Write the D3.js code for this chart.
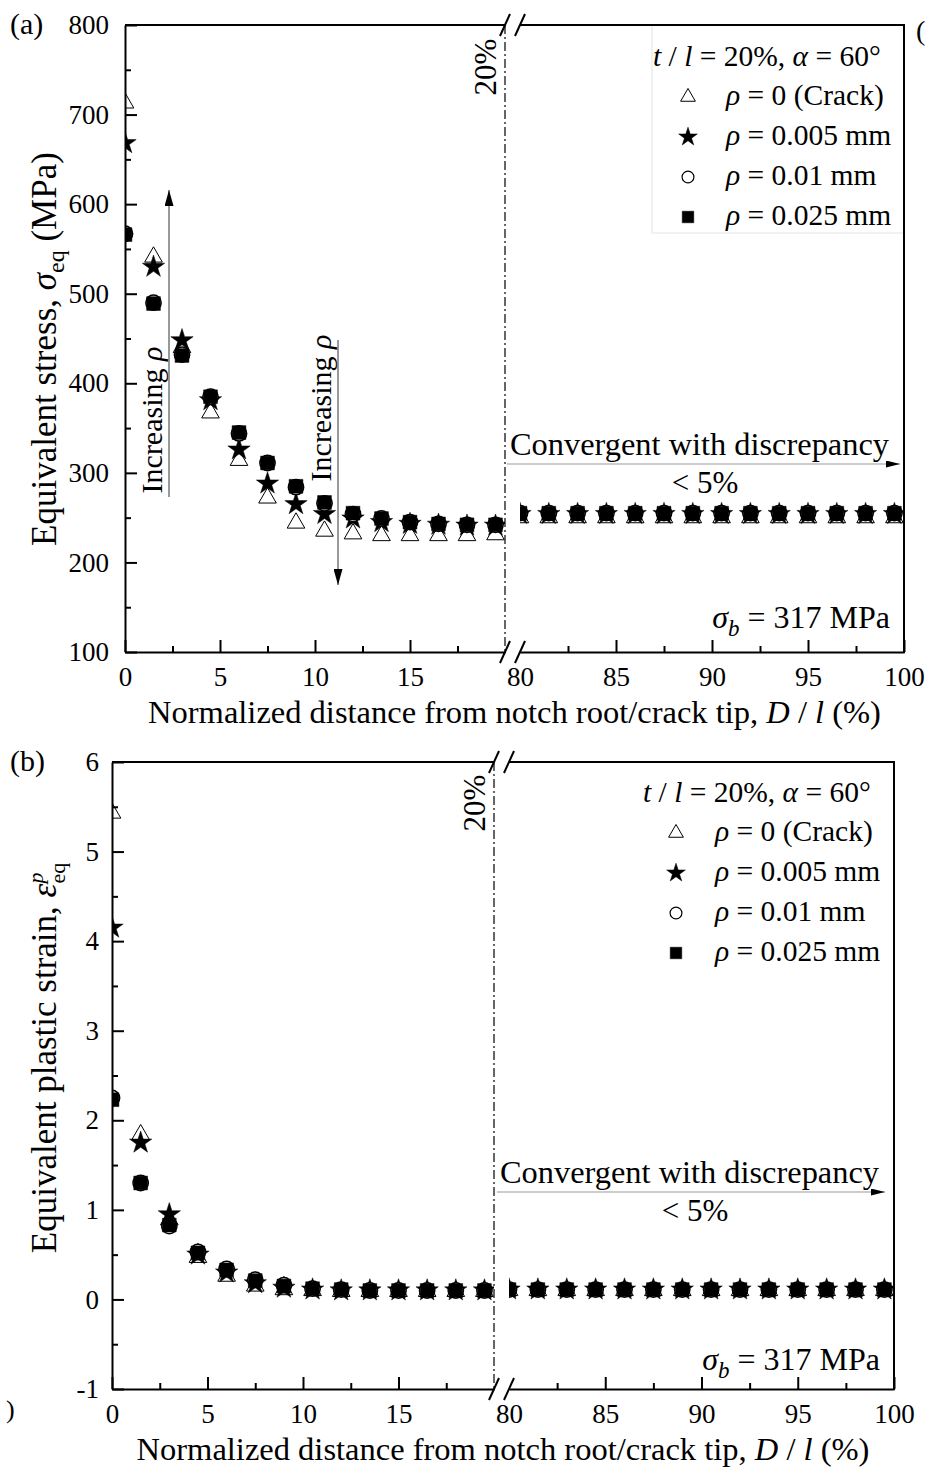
<!DOCTYPE html>
<html>
<head>
<meta charset="utf-8">
<script src="https://cdn.jsdelivr.net/npm/d3@7"></script>
<style>
  body { margin: 0; background: #fff; }
  svg { display: block; }
</style>
</head>
<body>
<script>
// Equivalent stress / plastic strain vs. normalized distance (broken x axis)
var FONT = "'Liberation Serif', 'Times New Roman', serif";

// x positions (left segment 0-20 %, right segment 80-100 %)
var xLeft  = [0, 1.5, 3, 4.5, 6, 7.5, 9, 10.5, 12, 13.5, 15, 16.5, 18, 19.5];
var xRight = [80, 81.5, 83, 84.5, 86, 87.5, 89, 90.5, 92, 93.5, 95, 96.5, 98, 99.5];

var seriesLabels = ["0 (Crack)", "0.005 mm", "0.01 mm", "0.025 mm"];

// (a) equivalent stress, MPa  (left 14 values, then right 14 values)
var stressCrack = [713, 541, 440, 367, 314, 272, 244, 235, 232, 230, 230, 230, 230, 231,
                   250, 250, 250, 250, 250, 250, 250, 250, 250, 250, 250, 250, 250, 250];
var stress005   = [668, 530, 448, 381, 326, 288, 265, 254, 249, 245, 243, 242, 241, 241,
                   254, 254, 254, 254, 254, 254, 254, 254, 254, 254, 254, 254, 254, 254];
var stress01    = [567, 490, 432, 385, 344, 311, 284, 266, 254, 249, 245, 243, 242, 242,
                   255, 255, 255, 255, 255, 255, 255, 255, 255, 255, 255, 255, 255, 255];
var stress025   = [566, 489, 431, 385, 345, 311, 285, 267, 255, 249, 245, 243, 242, 242,
                   255, 255, 255, 255, 255, 255, 255, 255, 255, 255, 255, 255, 255, 255];

// (b) equivalent plastic strain
var strainCrack = [5.43, 1.84, 0.89, 0.47, 0.26, 0.15, 0.11, 0.10, 0.09, 0.09, 0.09, 0.09, 0.09, 0.09,
                   0.10, 0.10, 0.10, 0.10, 0.10, 0.10, 0.10, 0.10, 0.10, 0.10, 0.10, 0.10, 0.10, 0.10];
var strain005   = [4.15, 1.75, 0.95, 0.50, 0.30, 0.18, 0.13, 0.11, 0.10, 0.10, 0.10, 0.10, 0.10, 0.10,
                   0.11, 0.11, 0.11, 0.11, 0.11, 0.11, 0.11, 0.11, 0.11, 0.11, 0.11, 0.11, 0.11, 0.11];
var strain01    = [2.25, 1.30, 0.82, 0.53, 0.34, 0.22, 0.16, 0.12, 0.11, 0.10, 0.10, 0.10, 0.10, 0.10,
                   0.11, 0.11, 0.11, 0.11, 0.11, 0.11, 0.11, 0.11, 0.11, 0.11, 0.11, 0.11, 0.11, 0.11];
var strain025   = [2.23, 1.30, 0.83, 0.52, 0.33, 0.21, 0.15, 0.12, 0.11, 0.10, 0.10, 0.10, 0.10, 0.10,
                   0.11, 0.11, 0.11, 0.11, 0.11, 0.11, 0.11, 0.11, 0.11, 0.11, 0.11, 0.11, 0.11, 0.11];

// tick values
var xMajorLeft  = [0, 5, 10, 15];
var xMinorLeft  = [2.5, 7.5, 12.5, 17.5];
var xMajorRight = [80, 85, 90, 95, 100];
var xMinorRight = [82.5, 87.5, 92.5, 97.5];
var stressTicks = [100, 200, 300, 400, 500, 600, 700, 800];
var stressMinor = [150, 250, 350, 450, 550, 650, 750];
var strainTicks = [-1, 0, 1, 2, 3, 4, 5, 6];
var strainMinor = [-0.5, 0.5, 1.5, 2.5, 3.5, 4.5, 5.5];

var svg = d3.select("body").append("svg")
    .attr("width", 928)
    .attr("height", 1472);

var defs = svg.append("defs");
defs.append("marker")
    .attr("id", "arrowBig")
    .attr("viewBox", "0 0 16 9")
    .attr("refX", 16).attr("refY", 4.5)
    .attr("markerUnits", "userSpaceOnUse")
    .attr("markerWidth", 16).attr("markerHeight", 9)
    .attr("orient", "auto")
    .append("path").attr("d", "M0,0L16,4.5L0,9Z").attr("fill", "#000");
defs.append("marker")
    .attr("id", "arrowSmall")
    .attr("viewBox", "0 0 14 7")
    .attr("refX", 14).attr("refY", 3.5)
    .attr("markerUnits", "userSpaceOnUse")
    .attr("markerWidth", 14).attr("markerHeight", 7)
    .attr("orient", "auto")
    .append("path").attr("d", "M0,0L14,3.5L0,7Z").attr("fill", "#000");

// marker styles, drawn in this order
var shapes = [
    {type: d3.symbolTriangle, size: 135, fill: "#fff", stroke: "#000", sw: 1},
    {type: d3.symbolStar,     size: 155, fill: "#000", stroke: "#000", sw: 0.5},
    {type: d3.symbolCircle,   size: 185, fill: "#fff", stroke: "#000", sw: 1.5},
    {type: d3.symbolSquare,   size: 190, fill: "#000", stroke: "#000", sw: 0.5}
];

function text(parent, x, y, size, anchor) {
    return parent.append("text")
        .attr("x", x).attr("y", y)
        .attr("font-size", size)
        .attr("font-family", FONT)
        .attr("text-anchor", anchor || "start")
        .attr("fill", "#000");
}

function styleAxis(sel, fontSize) {
    sel.select(".domain").attr("stroke", "#000").attr("stroke-width", 2);
    sel.selectAll(".tick line").attr("stroke", "#000").attr("stroke-width", 2);
    sel.selectAll(".tick text")
        .attr("font-family", FONT)
        .attr("font-size", fontSize)
        .attr("fill", "#000");
}

function drawPanel(cfg) {
    var g = svg.append("g");
    var xL = d3.scaleLinear().domain([0, 20]).range([cfg.x0, cfg.xb1]);
    var xR = d3.scaleLinear().domain([80, 100]).range([cfg.xb2, cfg.x1]);
    var y = d3.scaleLinear().domain(cfg.yDomain).range([cfg.bottom, cfg.top]);

    // clip regions for each segment
    defs.append("clipPath").attr("id", cfg.id + "L")
        .append("rect").attr("x", cfg.x0).attr("y", cfg.top)
        .attr("width", cfg.xb1 - cfg.x0).attr("height", cfg.bottom - cfg.top);
    defs.append("clipPath").attr("id", cfg.id + "R")
        .append("rect").attr("x", cfg.xb2).attr("y", cfg.top)
        .attr("width", cfg.x1 - cfg.xb2).attr("height", cfg.bottom - cfg.top);

    // legend frame (faint)
    if (cfg.legendBox) {
        g.append("rect")
            .attr("x", cfg.legendBox[0]).attr("y", cfg.legendBox[1])
            .attr("width", cfg.legendBox[2]).attr("height", cfg.legendBox[3])
            .attr("fill", "none").attr("stroke", "#e4e4e4").attr("stroke-width", 1);
    }

    // 20% dash-dot line
    g.append("line")
        .attr("x1", xL(20)).attr("x2", xL(20))
        .attr("y1", cfg.top).attr("y2", cfg.bottom)
        .attr("stroke", "#000").attr("stroke-width", 1.2)
        .attr("stroke-dasharray", "9,3,2,3");
    text(g, 0, 0, 31, "middle")
        .attr("transform", "translate(" + (xL(20) - 9) + "," + cfg.pctY + ") rotate(-90)")
        .text("20%");

    // data markers
    var series = cfg.series;
    shapes.forEach(function(sh, i) {
        var sym = d3.symbol().type(sh.type).size(sh.size);
        var left = xLeft.map(function(x, j) { return {x: x, v: series[i][j]}; });
        var right = xRight.map(function(x, j) { return {x: x, v: series[i][j + xLeft.length]}; });
        [[left, xL, "L"], [right, xR, "R"]].forEach(function(part) {
            g.append("g").attr("clip-path", "url(#" + cfg.id + part[2] + ")")
                .selectAll("path").data(part[0]).enter().append("path")
                .attr("d", sym)
                .attr("transform", function(d) { return "translate(" + part[1](d.x) + "," + y(d.v) + ")"; })
                .attr("fill", sh.fill)
                .attr("stroke", sh.stroke)
                .attr("stroke-width", sh.sw);
        });
    });

    // axes
    var axL = g.append("g").attr("transform", "translate(0," + cfg.bottom + ")")
        .call(d3.axisBottom(xL).tickValues(xMajorLeft).tickSize(-12).tickSizeOuter(0).tickPadding(15));
    styleAxis(axL, 27);
    var axR = g.append("g").attr("transform", "translate(0," + cfg.bottom + ")")
        .call(d3.axisBottom(xR).tickValues(xMajorRight).tickSize(-12).tickSizeOuter(0).tickPadding(15));
    axR.selectAll(".tick").filter(function(d) { return d === 80; }).select("line").remove();
    styleAxis(axR, 27);
    [[xL, xMinorLeft], [xR, xMinorRight]].forEach(function(m) {
        var a = g.append("g").attr("transform", "translate(0," + cfg.bottom + ")")
            .call(d3.axisBottom(m[0]).tickValues(m[1]).tickSize(-6).tickFormat(""));
        a.select(".domain").remove();
        styleAxis(a, 27);
    });

    var axY = g.append("g").attr("transform", "translate(" + cfg.x0 + ",0)")
        .call(d3.axisLeft(y).tickValues(cfg.yTicks).tickSize(-12).tickSizeOuter(0)
            .tickPadding(cfg.yPad).tickFormat(function(d) { return String(d); }));
    styleAxis(axY, 27);
    var axYm = g.append("g").attr("transform", "translate(" + cfg.x0 + ",0)")
        .call(d3.axisLeft(y).tickValues(cfg.yMinor).tickSize(-6).tickFormat(""));
    axYm.select(".domain").remove();
    styleAxis(axYm, 27);

    // frame: top and right
    [[cfg.x0, cfg.xb1], [cfg.xb2, cfg.x1]].forEach(function(s) {
        g.append("line").attr("x1", s[0]).attr("x2", s[1])
            .attr("y1", cfg.top).attr("y2", cfg.top)
            .attr("stroke", "#000").attr("stroke-width", 2);
    });
    g.append("line").attr("x1", cfg.x1).attr("x2", cfg.x1)
        .attr("y1", cfg.top - 1).attr("y2", cfg.bottom + 1)
        .attr("stroke", "#000").attr("stroke-width", 2);

    // break marks
    [cfg.top, cfg.bottom].forEach(function(yy) {
        [cfg.xb1, cfg.xb2].forEach(function(xx) {
            g.append("line")
                .attr("x1", xx - 5).attr("y1", yy + 11)
                .attr("x2", xx + 5).attr("y2", yy - 11)
                .attr("stroke", "#000").attr("stroke-width", 2);
        });
    });

    // axis titles
    var xt = text(g, (cfg.x0 + cfg.x1) / 2, cfg.bottom + 71, 32.5, "middle");
    xt.append("tspan").text("Normalized distance from notch root/crack tip, ");
    xt.append("tspan").attr("font-style", "italic").text("D");
    xt.append("tspan").text(" / ");
    xt.append("tspan").attr("font-style", "italic").text("l");
    xt.append("tspan").text(" (%)");

    var yt = text(g, 0, 0, 35, "middle")
        .attr("transform", "translate(56," + cfg.yTitleY + ") rotate(-90)");
    cfg.yTitle(yt);

    // panel letter
    text(g, 10, cfg.top + 9, 30).text(cfg.letter);

    // legend
    var lg = cfg.legend;
    var hd = text(g, lg.x, lg.y, 29.5);
    hd.append("tspan").attr("font-style", "italic").text("t");
    hd.append("tspan").text(" / ");
    hd.append("tspan").attr("font-style", "italic").text("l");
    hd.append("tspan").text(" = 20%, ");
    hd.append("tspan").attr("font-style", "italic").text("α");
    hd.append("tspan").text(" = 60°");
    seriesLabels.forEach(function(lab, i) {
        var sh = shapes[i];
        var cy = lg.y + 39 + i * 40;
        g.append("path")
            .attr("d", d3.symbol().type(sh.type).size(i === 2 ? 110 : sh.size * 0.7))
            .attr("transform", "translate(" + lg.symX + "," + (cy - 8) + ")")
            .attr("fill", i === 2 ? "#fff" : sh.fill)
            .attr("stroke", "#000")
            .attr("stroke-width", i === 2 ? 1.2 : sh.sw);
        var t = text(g, lg.textX, cy, 29.5);
        t.append("tspan").attr("font-style", "italic").text("ρ");
        t.append("tspan").text(" = " + lab);
    });

    // sigma_b note
    var sb = text(g, cfg.sigmaX, cfg.sigmaY, 32, "end");
    sb.append("tspan").attr("font-style", "italic").text("σ");
    sb.append("tspan").attr("font-style", "italic").attr("font-size", 23).attr("dy", 8).text("b");
    sb.append("tspan").attr("dy", -8).text(" = 317 MPa");

    // convergence note with arrow
    var cv = cfg.conv;
    text(g, cv.x, cv.y, 32.4).text("Convergent with discrepancy");
    g.append("line")
        .attr("x1", cv.x - 3).attr("x2", cv.x2)
        .attr("y1", cv.y + 9).attr("y2", cv.y + 9)
        .attr("stroke", "#999").attr("stroke-width", 1)
        .attr("marker-end", "url(#arrowSmall)");
    text(g, cv.midX, cv.y + 38, 31, "middle").text("< 5%");

    return {xL: xL, xR: xR, y: y, g: g};
}

var pa = drawPanel({
    id: "pa", letter: "(a)",
    x0: 125, xb1: 505, xb2: 520, x1: 904, top: 25, bottom: 652,
    yDomain: [100, 800], yTicks: stressTicks, yMinor: stressMinor, yPad: 16,
    series: [stressCrack, stress005, stress01, stress025],
    pctY: 67, yTitleY: 349,
    yTitle: function(t) {
        t.append("tspan").text("Equivalent stress, ");
        t.append("tspan").attr("font-style", "italic").text("σ");
        t.append("tspan").attr("font-size", 24).attr("dy", 8).text("eq");
        t.append("tspan").attr("dy", -8).text(" (MPa)");
    },
    legend: {x: 653, y: 66, symX: 688, textX: 726},
    legendBox: [652, 25, 252, 208],
    sigmaX: 890, sigmaY: 628,
    conv: {x: 510, y: 455, x2: 900, midX: 705}
});

var pb = drawPanel({
    id: "pb", letter: "(b)",
    x0: 112, xb1: 494, xb2: 509, x1: 894, top: 762, bottom: 1389,
    yDomain: [-1, 6], yTicks: strainTicks, yMinor: strainMinor, yPad: 13,
    series: [strainCrack, strain005, strain01, strain025],
    pctY: 803, yTitleY: 1058,
    yTitle: function(t) {
        t.append("tspan").text("Equivalent plastic strain, ");
        t.append("tspan").attr("font-style", "italic").text("ε");
        t.append("tspan").attr("font-style", "italic").attr("font-size", 22).attr("dy", -13).text("p");
        t.append("tspan").attr("font-size", 22).attr("dx", -11).attr("dy", 22).text("eq");
    },
    legend: {x: 643, y: 802, symX: 676, textX: 715},
    legendBox: null,
    sigmaX: 880, sigmaY: 1370,
    conv: {x: 500, y: 1183, x2: 885, midX: 695}
});

// "Increasing rho" annotations in panel (a)
function increasing(x, yText, yFrom, yTo) {
    var t = text(pa.g, 0, 0, 30, "middle")
        .attr("transform", "translate(" + x + "," + yText + ") rotate(-90)");
    t.append("tspan").text("Increasing ");
    t.append("tspan").attr("font-style", "italic").text("ρ");
    pa.g.append("line")
        .attr("x1", x + 7).attr("x2", x + 7)
        .attr("y1", yFrom).attr("y2", yTo)
        .attr("stroke", "#555").attr("stroke-width", 1.2)
        .attr("marker-end", "url(#arrowBig)");
}
increasing(162, 420, 497, 190);
increasing(331, 408, 340, 585);

// stray crop marks at the edges of the original figure
text(svg, 916, 40, 28).text("(");
text(svg, 6, 1418, 26).text(")");
</script>
</body>
</html>
